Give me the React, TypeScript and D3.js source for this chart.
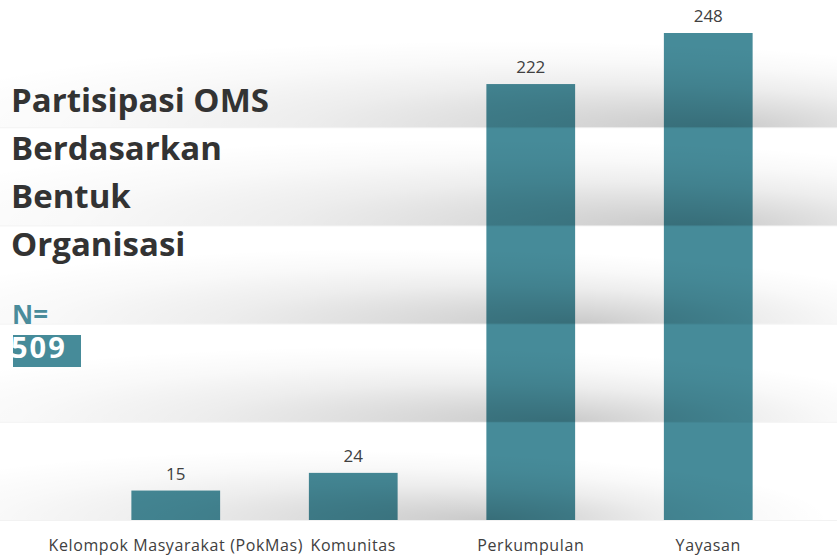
import React from "react";
import * as d3 from "d3";

const categories = ["Kelompok Masyarakat (PokMas)", "Komunitas", "Perkumpulan", "Yayasan"];
const values = [15, 24, 222, 248];
const gridTicks = [0, 50, 100, 150, 200];
const titleLines = ["Partisipasi OMS", "Berdasarkan", "Bentuk", "Organisasi"];
const nLabel = "N=";
const nValue = "509";

const W = 837;
const H = 555;
const BAR = "#468b99";
const FONT = "'Open Sans', 'Noto Sans', sans-serif";

// shadow shape per gridline: circle centre, focal point, radius (px)
const shadowCx = [330, 380, 400, 480, 500];
const shadowFx = [490, 560, 580, 700, 720];
const shadowR = [500, 540, 540, 620, 620];

export default function App() {
  const x = d3.scaleBand<string>().domain(categories).range([87, 797]).paddingInner(0.5).paddingOuter(0.25);
  const y = d3.scaleLinear().domain([0, 248]).range([520, 33]);

  return (
    <svg width={W} height={H} style={{ position: "absolute", left: 0, top: 0, background: "#fff" }}>
      <defs>
        {gridTicks.map((t, i) => (
          <radialGradient
            key={t}
            id={`shade${i}`}
            gradientUnits="userSpaceOnUse"
            cx={shadowCx[i]}
            cy={0}
            fx={shadowFx[i]}
            fy={0}
            r={shadowR[i]}
            gradientTransform={`translate(0,${y(t)}) scale(1,0.14)`}
          >
            <stop offset="0" stopColor="#000" stopOpacity="0.21" />
            <stop offset="0.25" stopColor="#000" stopOpacity="0.14" />
            <stop offset="0.5" stopColor="#000" stopOpacity="0.07" />
            <stop offset="0.75" stopColor="#000" stopOpacity="0.025" />
            <stop offset="1" stopColor="#000" stopOpacity="0" />
          </radialGradient>
        ))}
      </defs>
      <rect x={0} y={0} width={W} height={H} fill="#fff" />
      {categories.map((c, i) => (
        <rect key={c} x={x(c)} y={y(values[i])} width={x.bandwidth()} height={y(0) - y(values[i])} fill={BAR} />
      ))}
      {gridTicks.map((t, i) => (
        <g key={t}>
          <rect x={0} y={y(t) - 100} width={W} height={100} fill={`url(#shade${i})`} />
          <line x1={0} x2={W} y1={y(t) + 0.5} y2={y(t) + 0.5} stroke="#000" strokeOpacity={0.05} />
        </g>
      ))}
      {categories.map((c, i) => (
        <text
          key={c + "v"}
          x={(x(c) as number) + x.bandwidth() / 2}
          y={y(values[i]) - 11}
          textAnchor="middle"
          fontFamily={FONT}
          fontSize={17}
          fill="#404040"
        >
          {values[i]}
        </text>
      ))}
      {categories.map((c) => (
        <text
          key={c + "l"}
          x={(x(c) as number) + x.bandwidth() / 2}
          y={551}
          textAnchor="middle"
          fontFamily={FONT}
          fontSize={16}
          letterSpacing={0.6}
          fill="#404040"
        >
          {c}
        </text>
      ))}
      {titleLines.map((t, i) => (
        <text key={t} x={11} y={112 + i * 48} fontFamily={FONT} fontWeight={700} fontSize={33} fill="#333">
          {t}
        </text>
      ))}
      <text x={12} y={324} fontFamily={FONT} fontWeight={700} fontSize={26} fill="#4a8c9b">
        {nLabel}
      </text>
      <rect x={13} y={335} width={68} height={32} fill={BAR} />
      <text x={11} y={358} fontFamily={FONT} fontWeight={700} fontSize={29} letterSpacing={2} fill="#fff">
        {nValue}
      </text>
    </svg>
  );
}
